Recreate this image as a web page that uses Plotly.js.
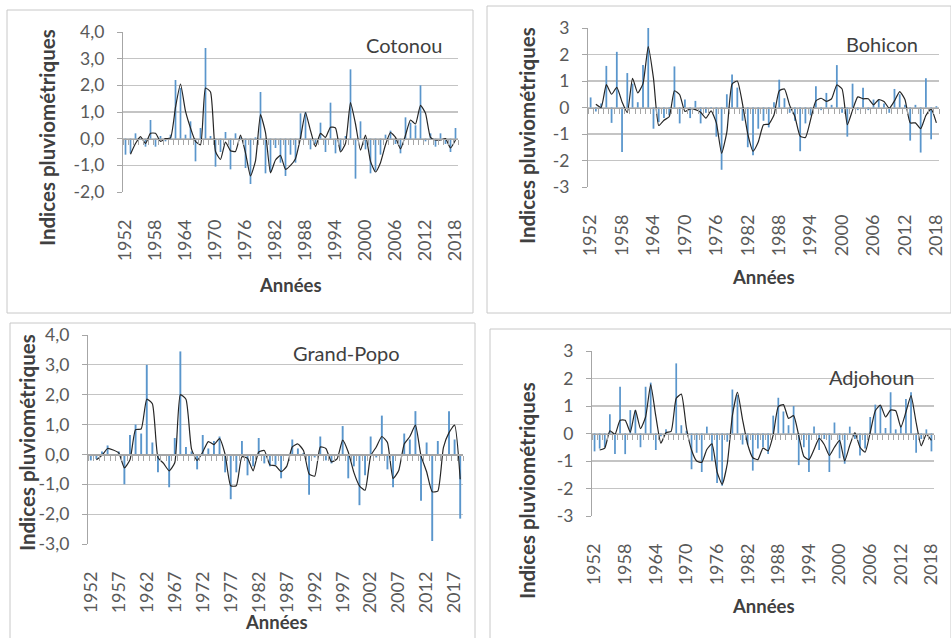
<!DOCTYPE html>
<html><head><meta charset="utf-8">
<script src="https://cdn.plot.ly/plotly-3.0.1.min.js"></script>
<style>html,body{margin:0;padding:0;background:#fff}#chart{width:951px;height:638px}</style>
</head><body><div id="chart"></div>
<script>
const years = [1952,1953,1954,1955,1956,1957,1958,1959,1960,1961,
1962,1963,1964,1965,1966,1967,1968,1969,1970,1971,
1972,1973,1974,1975,1976,1977,1978,1979,1980,1981,
1982,1983,1984,1985,1986,1987,1988,1989,1990,1991,
1992,1993,1994,1995,1996,1997,1998,1999,2000,2001,
2002,2003,2004,2005,2006,2007,2008,2009,2010,2011,
2012,2013,2014,2015,2016,2017,2018];

const ticks6 = [1952,1958,1964,1970,1976,1982,1988,1994,2000,2006,2012,2018];
const ticks5 = [1952,1957,1962,1967,1972,1977,1982,1987,1992,1997,2002,2007,2012,2017];

const yTicks4 = [-2,-1,0,1,2,3,4];
const yTicks3 = [-3,-2,-1,0,1,2,3];
const yTicks43 = [-3,-2,-1,0,1,2,3,4];

const stations = ["Cotonou","Bohicon","Grand-Popo","Adjohoun"];

const cotonouIdx = [-0.6,-0.55,0.2,-0.05,-0.3,0.7,-0.3,0.1,-0.1,0.15,
2.2,1.9,0.15,0.65,-0.85,0.4,3.4,0.1,-1.05,-0.5,
0.25,-1.15,0.2,0.05,-1.1,-1.7,0.05,1.75,-1.3,-1.25,
-0.35,-0.9,-1.4,-0.6,-0.9,0.95,1.0,-0.4,-0.2,0.6,
-0.5,1.35,-0.55,-0.45,0.1,2.6,-1.5,0.65,-0.4,-1.3,
-1.2,-0.6,0.15,0.3,-0.2,-0.55,0.8,0.6,0.5,2.0,
-0.1,0.2,-0.3,0.2,-0.2,-0.5,0.4];
const cotonouMov = [null,-0.58,-0.18,0.08,-0.18,0.2,0.2,-0.1,0,0.03,
1.18,2.05,1.03,0.4,-0.1,-0.23,1.9,1.75,-0.48,-0.78,
-0.13,-0.45,-0.48,0.13,-0.53,-1.4,-0.83,0.9,0.23,-1.28,
-0.8,-0.63,-1.15,-1.0,-0.75,0.03,0.98,0.3,-0.3,0.2,
0.05,0.43,0.4,-0.5,-0.18,1.35,0.55,-0.43,0.13,-0.85,
-1.25,-0.9,-0.23,0.23,0.05,-0.38,0.13,0.7,0.55,1.25,
0.95,0.05,-0.05,-0.05,0,-0.35,-0.05];

const bohiconIdx = [0.38,-0.15,0.15,1.57,-0.58,2.1,-1.68,1.3,0.9,0.2,
1.6,3.0,-0.8,-0.55,-0.4,-0.3,1.55,-0.6,0.3,-0.4,
0.25,-0.6,-0.2,-0.05,-1.1,-2.35,0.5,1.25,0.75,-0.5,
-1.5,-1.8,-0.8,-0.5,-0.75,0.2,1.05,0.35,-0.2,-0.5,
-1.65,-0.6,-0.3,0.8,-0.1,0.55,0.1,1.6,-0.2,-1.1,
0.9,-0.1,0.75,-0.1,0.3,0.3,0.15,-0.2,0.7,0.5,
0.1,-1.25,0.1,-1.7,1.1,-1.2,0.05];
const bohiconMov = [null,0.12,0,0.86,0.5,0.76,0.21,-0.19,1.1,0.55,
0.9,2.3,1.1,-0.68,-0.48,-0.35,0.63,0.48,-0.15,-0.05,
-0.08,-0.18,-0.4,-0.13,-0.58,-1.73,-0.93,0.88,1.0,0.13,
-1.0,-1.65,-1.3,-0.65,-0.63,-0.28,0.63,0.7,0.08,-0.35,
-1.08,-1.13,-0.45,0.25,0.35,0.23,0.33,0.85,0.7,-0.65,
-0.1,0.4,0.33,0.33,0.1,0.3,0.23,-0.03,0.25,0.6,
0.3,-0.58,-0.58,-0.8,-0.3,-0.05,-0.58];

const grandPopoIdx = [-0.2,-0.15,0.1,0.3,0.0,0.1,-1.0,0.65,1.0,0.7,
3.0,0.4,-0.6,0.0,-1.1,0.55,3.45,0.25,0.1,-0.5,
0.65,0.2,0.45,0.6,-0.6,-1.5,-0.6,0.45,-0.7,-0.4,
0.55,-0.3,-0.4,-0.35,-0.8,0.0,0.5,0.2,0.05,-1.35,
-0.1,0.6,-0.2,-0.3,0.0,0.95,-0.8,-0.4,-1.7,-0.7,
0.6,-0.1,1.3,-0.5,-1.1,0.0,0.7,0.5,1.45,-1.55,
0.4,-2.9,0.45,0.0,1.45,0.5,-2.15];
const grandPopoMov = [null,-0.18,-0.03,0.2,0.15,0.05,-0.45,-0.18,0.83,0.85,
1.85,1.7,-0.1,-0.3,-0.55,-0.28,2.0,1.85,0.18,-0.2,
0.08,0.43,0.33,0.53,0.0,-1.05,-1.05,-0.08,-0.13,-0.55,
0.08,0.13,-0.35,-0.38,-0.58,-0.4,0.25,0.35,0.13,-0.65,
-0.73,0.25,0.2,-0.25,-0.15,0.48,0.08,-0.6,-1.05,-1.2,
-0.05,0.25,0.6,0.4,-0.8,-0.55,0.35,0.6,0.98,-0.05,
-0.58,-1.25,-1.23,0.23,0.73,0.98,-0.83];

const adjohounIdx = [-0.65,-0.55,-0.5,0.7,-0.75,1.7,-0.75,0.85,0.85,-0.5,
1.7,1.85,-0.6,-0.1,0.15,0.0,2.55,0.3,0.1,-1.3,
-0.7,-1.4,0.25,-1.0,-1.8,-1.9,-0.3,1.6,1.4,-0.4,
-0.4,-1.35,-0.55,-0.5,-0.75,0.65,1.3,0.8,0.3,1.0,
-1.15,-0.5,-1.4,0.25,-0.6,-0.2,-1.4,0.4,-0.9,-1.1,
0.25,-0.2,-0.8,-0.55,0.6,1.05,1.0,0.2,1.5,0.15,
0.3,1.25,1.5,-0.7,-0.2,0.15,-0.65];
const adjohounMov = [null,-0.6,-0.53,0.1,-0.03,0.48,0.48,0.05,0.85,0.18,
0.6,1.78,0.63,-0.35,0.03,0.08,1.28,1.43,0.2,-0.6,
-1.0,-1.05,-0.58,-0.38,-1.4,-1.85,-1.1,0.65,1.5,0.5,
-0.4,-0.88,-0.95,-0.53,-0.63,-0.05,0.98,1.05,0.55,0.65,
-0.08,-0.83,-0.95,-0.58,-0.18,-0.4,-0.8,-0.5,-0.25,-1.0,
-0.43,0.03,-0.5,-0.68,0.03,0.83,1.03,0.6,0.85,0.83,
0.23,0.78,1.38,0.4,-0.45,-0.03,-0.25];

const W = 951, H = 638;
function fmtTick(v, dec){ // hyphen-minus and comma decimal, as in the source
  const s = dec ? Math.abs(v).toFixed(1).replace('.', ',') : String(Math.abs(v));
  return (v < 0 ? '-' : '') + s;
}
// panel plot areas in pixels: [left, right, top, bottom]
const panels = [
  {idx: cotonouIdx, mov: cotonouMov, box:[123,458,32,192], yt:yTicks4, dec:true, tv:ticks6,
   frame:[7,473,10,313], ytx:47, yty:138, atx:290, aty:285, lx:404, ly:45},
  {idx: bohiconIdx, mov: bohiconMov, box:[588,939,28,187], yt:yTicks3, dec:false, tv:ticks6,
   frame:[487,951,6,313], ytx:527, yty:136, atx:763, aty:277, lx:882, ly:44},
  {idx: grandPopoIdx, mov: grandPopoMov, box:[88,463,335,544], yt:yTicks43, dec:true, tv:ticks5,
   frame:[10,475,323,640], ytx:27, yty:443, atx:276, aty:622, lx:346, ly:353},
  {idx: adjohounIdx, mov: adjohounMov, box:[592,934,351,516], yt:yTicks3, dec:false, tv:ticks6,
   frame:[490,951,329,640], ytx:527, yty:491, atx:763, aty:606, lx:871, ly:377}
];

const font = "Lato, 'Open Sans', sans-serif";
const traces = [];
const layout = {
  width: W, height: H, margin:{l:0,r:0,t:0,b:0},
  paper_bgcolor:'#fff', plot_bgcolor:'rgba(0,0,0,0)',
  showlegend:false, separators:',.', bargap:0.66,
  font:{family:font, color:'#595959'},
  shapes:[], annotations:[]
};

panels.forEach((p,k)=>{
  const n = k+1, z = k+5;
  const xs = n===1?'':String(n);
  const xd = [p.box[0]/W, p.box[1]/W];
  const yd = [1-p.box[3]/H, 1-p.box[2]/H];
  const yr = [p.yt[0], p.yt[p.yt.length-1]];
  traces.push({type:'bar', x:years, y:p.idx, xaxis:'x'+xs, yaxis:'y'+xs,
    marker:{color:'#5a96cc', line:{width:0}}, hoverinfo:'x+y'});
  traces.push({type:'scatter', mode:'lines', x:years, y:p.mov, xaxis:'x'+xs, yaxis:'y'+xs,
    line:{color:'#262626', width:1.2, shape:'spline', smoothing:0.5}, connectgaps:false, hoverinfo:'skip'});
  traces.push({type:'scatter', mode:'lines', x:[years[0]], y:[0], xaxis:'x'+z, yaxis:'y'+xs,
    line:{color:'rgba(0,0,0,0)'}, hoverinfo:'skip'});
  layout['xaxis'+xs] = {domain:xd, anchor:'y'+xs, range:[1951.5,2018.5],
    tickmode:'array', tickvals:p.tv, ticktext:p.tv.map(String), tickangle:-90,
    showgrid:false, zeroline:false, showline:false, ticks:'', ticklabelstandoff:23,
    tickfont:{size:18, family:font, color:'#595959'}};
  layout['yaxis'+xs] = {domain:yd, anchor:'x'+xs, range:yr,
    tickmode:'array', tickvals:p.yt, ticktext:p.yt.map(v=>fmtTick(v,p.dec)),
    showgrid:true, gridcolor:'#c4c4c4', gridwidth:1.2, zeroline:false,
    showline:true, linecolor:'#a6a6a6', linewidth:1.2, ticks:'outside', ticklen:5, tickcolor:'#a6a6a6',
    ticklabelstandoff:9, tickfont:{size:17.5, family:font, color:'#595959'}};
  const pos = yd[0] + (0-yr[0])/(yr[1]-yr[0])*(yd[1]-yd[0]);
  layout['xaxis'+z] = {overlaying:'x'+xs, anchor:'free', position:pos, range:[1951.5,2018.5],
    tickmode:'linear', tick0:1951.5, dtick:1, ticks:'outside', ticklen:5, tickcolor:'#a6a6a6',
    showticklabels:false, showgrid:false, zeroline:false, showline:true, linecolor:'#a6a6a6', linewidth:1.2};
  layout.shapes.push({type:'rect', xref:'paper', yref:'paper',
    x0:p.frame[0]/W, x1:p.frame[1]/W, y0:1-p.frame[3]/H, y1:1-p.frame[2]/H,
    line:{color:'#c8c8c8', width:1}, fillcolor:'rgba(0,0,0,0)', layer:'below'});
  layout.annotations.push({xref:'paper', yref:'paper', x:p.ytx/W, y:1-p.yty/H, showarrow:false,
    text:'Indices pluviométriques', textangle:-90, xanchor:'center', yanchor:'middle',
    font:{size:20.5, family:font, color:'#404040', weight:'bold'}});
  layout.annotations.push({xref:'paper', yref:'paper', x:p.atx/W, y:1-p.aty/H, showarrow:false,
    text:'Années', xanchor:'center', yanchor:'middle',
    font:{size:18.5, family:font, color:'#404040', weight:'bold'}});
  layout.annotations.push({xref:'paper', yref:'paper', x:p.lx/W, y:1-p.ly/H, showarrow:false,
    text:stations[k], xanchor:'center', yanchor:'middle',
    font:{size:20, family:font, color:'#404040'}});
});

Plotly.newPlot('chart', traces, layout, {staticPlot:true, displayModeBar:false});
</script>
</body></html>
